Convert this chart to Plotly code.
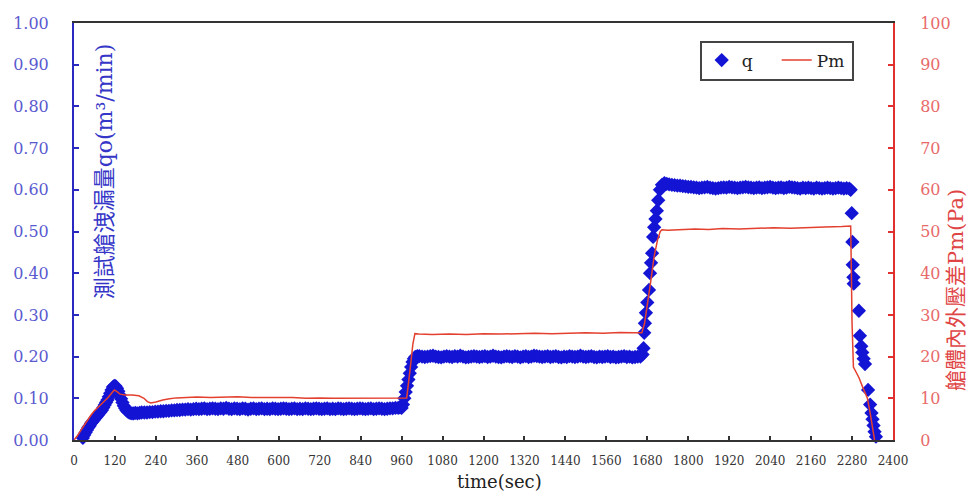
import plotly.graph_objects as go

# ---------------- data ----------------
x_ticks = [0, 120, 240, 360, 480, 600, 720, 840, 960, 1080, 1200, 1320, 1440,
           1560, 1680, 1800, 1920, 2040, 2160, 2280, 2400]

# q : start-up, overshoot at ~120 s
q_t_start = [18, 22, 26, 30, 34, 38, 42, 46, 50, 54, 58, 62, 66, 70, 74, 78, 82, 86, 90, 94,
             98, 102, 106, 110, 114, 118, 122, 126, 130, 134, 138, 142, 146, 150, 154, 158,
             162, 166, 170, 175, 180, 186, 192, 198]
q_v_start = [-0.008, -0.002, 0.005, 0.012, 0.018, 0.024, 0.030, 0.034, 0.040, 0.044, 0.048,
             0.052, 0.056, 0.060, 0.064, 0.068, 0.072, 0.078, 0.084, 0.090,
             0.096, 0.104, 0.112, 0.120, 0.127, 0.130, 0.129, 0.124, 0.117, 0.108, 0.099,
             0.090, 0.082, 0.076, 0.071, 0.068, 0.066, 0.065, 0.064, 0.064, 0.065, 0.064,
             0.065, 0.066]

# q : first plateau (sampled every 8 s, 206 .. 950 s)
q_t_plateau1 = list(range(206, 951, 8))
q_v_plateau1 = [0.066, 0.066, 0.067, 0.067, 0.068, 0.068, 0.069, 0.069, 0.070, 0.070, 0.071,
                0.071, 0.072, 0.072, 0.073, 0.073, 0.074, 0.073, 0.074, 0.075, 0.074,
                0.075, 0.076, 0.074, 0.075, 0.076, 0.075, 0.074, 0.076, 0.075, 0.077,
                0.075, 0.074, 0.076, 0.075, 0.074, 0.076, 0.075, 0.073, 0.075, 0.076,
                0.074, 0.075, 0.076, 0.074, 0.075, 0.074, 0.076, 0.075, 0.074, 0.075,
                0.076, 0.075, 0.074, 0.075, 0.076, 0.074, 0.075, 0.074, 0.076, 0.075,
                0.074, 0.075, 0.076, 0.075, 0.074, 0.075, 0.076, 0.074, 0.075, 0.074,
                0.076, 0.075, 0.074, 0.075, 0.076, 0.075, 0.074, 0.075, 0.076, 0.075,
                0.074, 0.075, 0.076, 0.074, 0.075, 0.076, 0.075, 0.074, 0.075, 0.076,
                0.076, 0.077, 0.077]

# q : step near 960 s
q_t_step1 = [955, 960, 964, 968, 972, 976, 980, 984, 988, 992, 996, 1000, 1006]
q_v_step1 = [0.078, 0.077, 0.085, 0.100, 0.115, 0.130, 0.145, 0.160, 0.175, 0.187, 0.195,
             0.199, 0.201]

# q : second plateau (every 8 s, 1012 .. 1660 s)
q_t_plateau2 = list(range(1012, 1661, 8))
q_v_plateau2 = [0.201, 0.200, 0.199, 0.200, 0.201, 0.202, 0.200, 0.199, 0.198, 0.200,
                0.201, 0.200, 0.199, 0.201, 0.200, 0.202, 0.200, 0.198, 0.199, 0.200,
                0.201, 0.200, 0.199, 0.200, 0.201, 0.199, 0.200, 0.202, 0.200, 0.199,
                0.198, 0.200, 0.201, 0.200, 0.199, 0.201, 0.200, 0.198, 0.200, 0.201,
                0.199, 0.200, 0.202, 0.201, 0.200, 0.199, 0.200, 0.201, 0.199, 0.200,
                0.201, 0.199, 0.198, 0.200, 0.199, 0.201, 0.200, 0.199, 0.200, 0.202,
                0.200, 0.199, 0.200, 0.201, 0.199, 0.198, 0.200, 0.199, 0.200, 0.201,
                0.199, 0.200, 0.198, 0.199, 0.200, 0.201, 0.199, 0.200, 0.198, 0.199,
                0.200, 0.200]

# q : step near 1680 s
q_t_step2 = [1666, 1669, 1671, 1673, 1676, 1680, 1685, 1688, 1691, 1694, 1697, 1700, 1704,
             1708, 1712, 1717, 1723, 1730, 1737]
q_v_step2 = [0.205, 0.220, 0.257, 0.280, 0.305, 0.330, 0.360, 0.400, 0.425, 0.448, 0.487,
             0.510, 0.530, 0.550, 0.575, 0.600, 0.612, 0.616, 0.614]

# q : third plateau (every 8 s, 1744 .. 2272 s)
q_t_plateau3 = list(range(1744, 2273, 8))
q_v_plateau3 = [0.613, 0.612, 0.611, 0.610, 0.610, 0.609, 0.608, 0.607, 0.607, 0.606,
                0.605, 0.604, 0.605, 0.606, 0.607, 0.605, 0.604, 0.603, 0.604, 0.605,
                0.606, 0.605, 0.607, 0.606, 0.605, 0.604, 0.605, 0.606, 0.607, 0.606,
                0.605, 0.604, 0.605, 0.606, 0.604, 0.605, 0.606, 0.607, 0.605, 0.604,
                0.605, 0.606, 0.604, 0.605, 0.607, 0.606, 0.605, 0.604, 0.603, 0.605,
                0.604, 0.605, 0.604, 0.603, 0.605, 0.604, 0.603, 0.604, 0.605, 0.604,
                0.603, 0.604, 0.605, 0.604, 0.603, 0.604, 0.603]

# q : shut-down
q_t_end = [2276, 2279, 2281, 2282, 2284, 2285, 2300, 2303, 2307, 2310, 2314, 2318,
           2327, 2333, 2337, 2340, 2343, 2346, 2350, 2354]
q_v_end = [0.600, 0.544, 0.475, 0.420, 0.390, 0.375, 0.310, 0.250, 0.225, 0.210,
           0.195, 0.182, 0.120, 0.085, 0.065, 0.050, 0.035, 0.020, 0.008, -0.004]

pm_time = [0, 10, 20, 30, 40, 50, 60, 70, 80, 90, 100, 110, 118, 126, 135, 150, 170, 190,
           205, 215, 225, 240, 260, 280, 300, 330, 360, 400, 440, 480, 520, 560, 600, 640,
           680, 720, 760, 800, 840, 880, 920, 960, 975, 985, 993, 999, 1010, 1050, 1100,
           1150, 1200, 1250, 1300, 1350, 1400, 1450, 1500, 1550, 1600, 1640, 1664, 1672,
           1680, 1690, 1700, 1710, 1718, 1723, 1740, 1780, 1820, 1860, 1900, 1950, 2000,
           2050, 2100, 2150, 2200, 2250, 2276, 2278, 2280, 2284, 2300, 2312, 2325, 2333,
           2340, 2346]
pm_val = [0.0, 1.0, 2.3, 3.6, 4.9, 6.0, 7.0, 7.8, 8.5, 9.3, 10.2, 11.2, 12.0, 11.6, 11.0,
          10.8, 10.8, 10.6, 10.0, 9.2, 8.9, 9.1, 9.6, 9.9, 10.1, 10.2, 10.3, 10.2, 10.3,
          10.4, 10.2, 10.2, 10.1, 10.2, 10.0, 10.1, 10.0, 10.0, 10.1, 10.0, 10.0, 10.0,
          10.1, 17.0, 23.0, 25.5, 25.4, 25.3, 25.4, 25.3, 25.5, 25.4, 25.5, 25.6, 25.5,
          25.6, 25.7, 25.6, 25.8, 25.7, 25.7, 28.0, 32.0, 38.0, 44.0, 48.0, 50.0, 50.4,
          50.3, 50.4, 50.6, 50.5, 50.7, 50.6, 50.8, 50.9, 50.8, 51.0, 51.1, 51.2, 51.3,
          40.0, 28.0, 17.5, 15.0, 12.5, 10.0, 6.5, 3.0, 0.0]

q_time = q_t_start + q_t_plateau1 + q_t_step1 + q_t_plateau2 + q_t_step2 + q_t_plateau3 + q_t_end
q_flow = q_v_start + q_v_plateau1 + q_v_step1 + q_v_plateau2 + q_v_step2 + q_v_plateau3 + q_v_end

# ---------------- figure ----------------
SERIF = "DejaVu Serif, Liberation Serif, serif"
CJK = "DejaVu Serif, Noto Sans CJK TC, Noto Sans CJK SC, serif"
BLUE = "#1414d4"
RED = "#e4402f"

fig = go.Figure()
fig.add_trace(go.Scatter(
    x=q_time, y=q_flow, name="q", mode="markers",
    marker=dict(symbol="diamond", size=11, color=BLUE, line=dict(width=0)),
    cliponaxis=False, yaxis="y"))
fig.add_trace(go.Scatter(
    x=pm_time, y=pm_val, name="Pm", mode="lines",
    line=dict(color=RED, width=1.5), yaxis="y2"))

fig.update_layout(
    width=971, height=492,
    margin=dict(l=74, r=78, t=23, b=52),
    paper_bgcolor="white", plot_bgcolor="white",
    showlegend=True,
    legend=dict(orientation="h", x=0.952, xanchor="right", y=0.958, yanchor="top",
                bordercolor="#444", borderwidth=2, bgcolor="white",
                font=dict(family=SERIF, size=17, color="#222"),
                entrywidth=30, entrywidthmode="pixels", itemwidth=30),
    xaxis=dict(range=[0, 2400], tickvals=x_ticks, ticktext=[str(v) for v in x_ticks],
               ticks="inside", ticklen=4, tickcolor="#333", tickwidth=1.5,
               showline=True, linecolor="#333", linewidth=2, mirror=True,
               showgrid=False, zeroline=False, ticklabelstandoff=9,
               tickfont=dict(family=SERIF, size=12, color="#333")),
    yaxis=dict(range=[0, 1], dtick=0.1, tick0=0, tickformat=".2f",
               ticks="inside", ticklen=5, tickcolor="#2a2ac0", tickwidth=1.5,
               showline=True, linecolor="#2a2ac0", linewidth=2,
               showgrid=False, zeroline=False, ticklabelstandoff=20,
               tickfont=dict(family=SERIF, size=16, color="#5a5ad0")),
    yaxis2=dict(range=[0, 100], dtick=10, tick0=0, overlaying="y", side="right",
                ticks="inside", ticklen=5, tickcolor="#e03030", tickwidth=1.5,
                showline=True, linecolor="#e03030", linewidth=2,
                showgrid=False, zeroline=False, ticklabelstandoff=22,
                tickfont=dict(family=SERIF, size=16, color="#e86a6a")),
    annotations=[
        dict(text="測試艙洩漏量qo(m³/min)", xref="paper", yref="paper",
             x=0.037, y=0.645, textangle=-90, showarrow=False,
             xanchor="center", yanchor="middle",
             font=dict(family=CJK, size=22, color="#3535c8")),
        dict(text="艙體內外壓差Pm(Pa)", xref="paper", yref="paper",
             x=1.077, y=0.36, textangle=-90, showarrow=False,
             xanchor="center", yanchor="middle",
             font=dict(family=CJK, size=21, color="#e04545")),
        dict(text="time(sec)", xref="paper", yref="paper",
             x=0.52, y=-0.1, showarrow=False, xanchor="center", yanchor="middle",
             font=dict(family=SERIF, size=18, color="#222")),
    ],
)

fig.write_html("out.html", config={"displayModeBar": False},
               post_script="document.body.style.margin='0';")
